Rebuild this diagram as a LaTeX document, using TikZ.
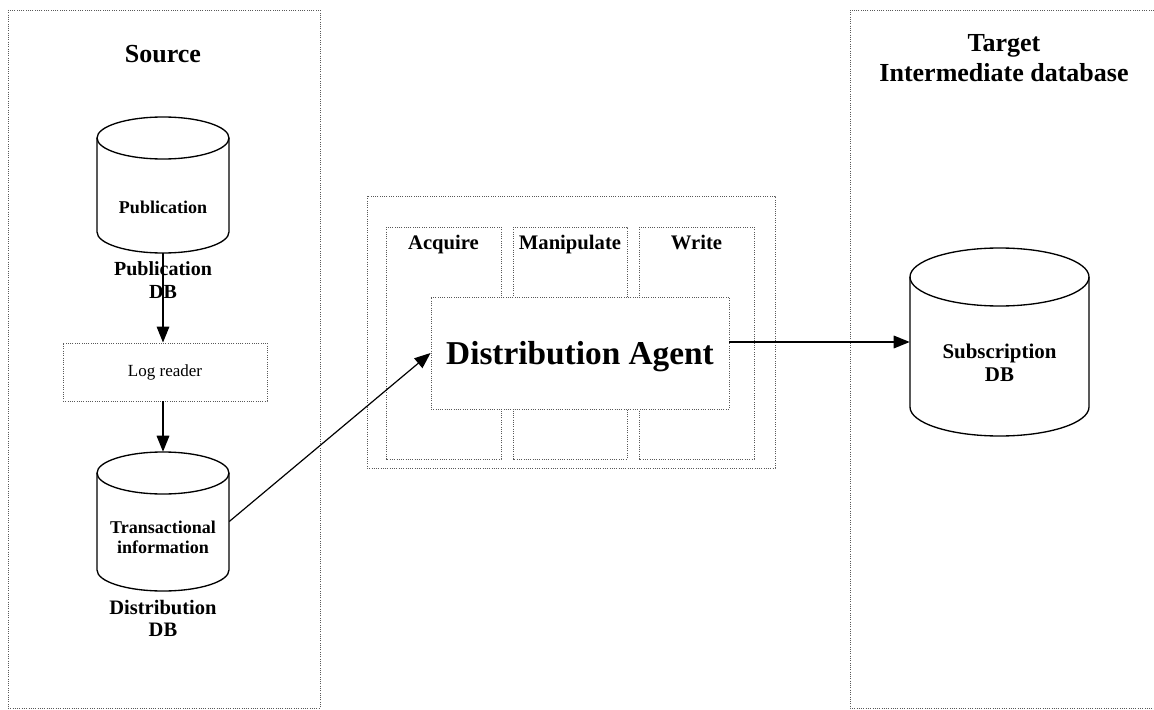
\documentclass[tikz,border=0pt]{standalone}
\usepackage{fontspec}
\setmainfont{Liberation Serif}
\usetikzlibrary{arrows.meta,calc}
\newcommand\mycyl[5]{%
  \draw[cylline] (#1-#4,#2) -- (#1-#4,#3) arc[start angle=180,end angle=360,x radius=#4,y radius=#5] -- (#1+#4,#2);
  \draw[cylline] (#1,#2) ellipse[x radius=#4,y radius=#5];}
\tikzset{
  frame/.style={draw=black!65, densely dotted, line width=0.7pt},
  cylline/.style={draw=black, line width=1pt},
  ghost/.style={inner sep=0pt, draw=none},
  conn/.style={draw=black, line width=0.9pt, -{Triangle[length=12pt,width=9.5pt]}},
  ttl/.style={font=\bfseries\fontsize{19.5}{22.5}\selectfont, align=center, anchor=base},
  stage/.style={font=\bfseries\fontsize{15.5}{18}\selectfont, anchor=base},
  inlbl/.style={font=\bfseries\fontsize{13.5}{15}\selectfont, align=center, anchor=base},
  dblbl/.style={font=\bfseries\fontsize{15.3}{17}\selectfont, align=center, anchor=base},
}
\begin{document}
\begin{tikzpicture}[x=0.75pt,y=0.75pt]
\useasboundingbox (0,0) rectangle (1154,-710);
% panels
\draw[frame] (8,-10) rectangle (320,-708);
\draw[frame] (1154,-10) -- (850,-10) -- (850,-708) -- (1154,-708);
\node[ttl] (src) at (163,-63) {Source};
\node[ttl] (tgt) at (1004,-82) {Target\\Intermediate database};
% source cylinders
\node[ghost, minimum width=99pt, minimum height=102pt] (pub) at (163,-185) {};
\mycyl{163}{-138}{-232}{66}{21}
\node[inlbl] (pubtxt) at (163,-214) {Publication};
\node[dblbl, font=\bfseries\fontsize{15}{17.25}\selectfont] (publbl) at (163,-298) {Publication\\DB};
\node[frame, minimum width=153pt, minimum height=43.5pt, font=\fontsize{12.75}{15}\selectfont] (log) at (165,-372) {Log reader};
\node[ghost, minimum width=99pt, minimum height=104.25pt] (dist) at (163,-521.5) {};
\mycyl{163}{-473}{-570}{66}{21}
\node[inlbl] (disttxt) at (163,-553) {Transactional\\information};
\node[dblbl, font=\bfseries\fontsize{15.4}{16.5}\selectfont] (distlbl) at (163,-636) {Distribution\\DB};
% middle
\draw[frame] (367,-196) rectangle (775,-468);
\draw[frame] (386,-227) rectangle (501,-459);
\draw[frame] (513,-227) rectangle (627,-459);
\draw[frame] (639,-227) rectangle (754,-459);
\node[stage] (acq) at (443.5,-249) {Acquire};
\node[stage] (man) at (570,-249) {Manipulate};
\node[stage] (wri) at (696.5,-249) {Write};
\node[frame, fill=white, minimum width=223.5pt, minimum height=84pt] (da) at (580,-353) {};
\node[font=\bfseries\fontsize{25}{28}\selectfont, anchor=base] (datxt) at (580,-364) {Distribution Agent};
% target cylinder
\node[ghost, minimum width=134.25pt, minimum height=141pt] (sub) at (999.5,-342) {};
\mycyl{999.5}{-277}{-407}{89.5}{29}
\node[dblbl, font=\bfseries\fontsize{15.7}{17.25}\selectfont] (subtxt) at (999.5,-381) {Subscription\\DB};
% connectors
\draw[conn] (pub.south) -- (log.north -| pub.south);
\draw[conn] (log.south -| dist.north) -- (dist.north);
\draw[conn] (dist.east) -- (da.west);
\draw[conn] (da.east |- sub.west) -- (sub.west);
\end{tikzpicture}
\end{document}
